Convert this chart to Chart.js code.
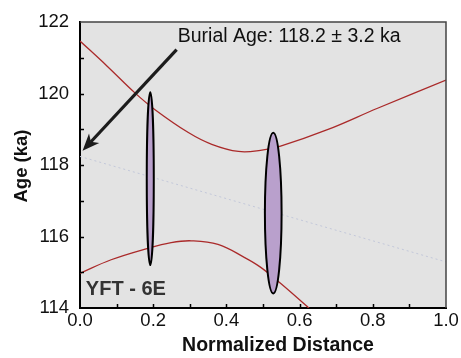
<!DOCTYPE html>
<html>
<head>
<meta charset="utf-8">
<script src="https://cdn.jsdelivr.net/npm/chart.js@4.4.1/dist/chart.umd.min.js"></script>
<style>
    html, body { margin: 0; padding: 0; background: #ffffff; }
    canvas { display: block; }
</style>
</head>
<body>
<canvas id="ageChart" width="461" height="358"></canvas>
<script>
// confidence band, upper and lower curves
var upperX = [0, 0.075, 0.15, 0.205, 0.296, 0.36, 0.433, 0.493, 0.548, 0.676, 0.813, 1.0];
var upperY = [121.47, 120.76, 120.02, 119.55, 118.91, 118.58, 118.38, 118.41, 118.53, 118.99, 119.59, 120.38];
var lowerX = [0, 0.085, 0.185, 0.249, 0.304, 0.377, 0.45, 0.492, 0.547, 0.624, 0.7];
var lowerY = [114.97, 115.35, 115.67, 115.83, 115.88, 115.78, 115.41, 115.15, 114.70, 114.01, 113.3];

// regression line
var fitX = [0, 1.0];
var fitY = [118.24, 115.29];

// sample ages drawn as ellipses
var sampleX = [0.192, 0.528];
var sampleY = [117.62, 116.655];
var sampleHalfX = [0.0096, 0.0228];
var sampleHalfY = [2.42, 2.25];

// ticks
var xTickStep = 0.2;
var yTickStep = 2;
var xMinorTicks = [0.1, 0.2, 0.3, 0.4, 0.5, 0.6, 0.7, 0.8, 0.9];
var yMinorTicks = [115, 116, 117, 118, 119, 120, 121];

// annotations (data units)
var burialText = "Burial Age: 118.2 \u00b1 3.2 ka";
var burialPos = [0.267, 121.45];
var arrowFrom = [0.264, 121.23];
var arrowTo = [0.007, 118.40];
var sampleName = "YFT - 6E";
var sampleNamePos = [0.016, 114.35];

var fontFamily = "'Liberation Sans', Arial, Helvetica, sans-serif";

function toPoints(xs, ys)
{
    var pts = [];
    for (var i = 0; i < xs.length; i++)
    {
        pts.push({x: xs[i], y: ys[i]});
    }
    return pts;
}

function drawArrow(ctx, x0, y0, x1, y1)
{
    var ang = Math.atan2(y1 - y0, x1 - x0);
    var c = Math.cos(ang), s = Math.sin(ang);
    var headLen = 17, headW = 7;
    var bx = x1 - headLen * c, by = y1 - headLen * s;
    ctx.save();
    ctx.strokeStyle = "#1c1c1c";
    ctx.fillStyle = "#1c1c1c";
    ctx.lineWidth = 3.2;
    ctx.beginPath();
    ctx.moveTo(x0, y0);
    ctx.lineTo(x1 - 12 * c, y1 - 12 * s);
    ctx.stroke();
    ctx.beginPath();
    ctx.moveTo(x1, y1);
    ctx.lineTo(bx + headW * s, by - headW * c);
    ctx.lineTo(x1 - 0.72 * headLen * c, y1 - 0.72 * headLen * s);
    ctx.lineTo(bx - headW * s, by + headW * c);
    ctx.closePath();
    ctx.fill();
    ctx.restore();
}

var decorPlugin = {
    id: "decor",
    beforeDraw: function (chart)
    {
        var ctx = chart.ctx, a = chart.chartArea;
        ctx.save();
        ctx.fillStyle = "#ffffff";
        ctx.fillRect(0, 0, chart.width, chart.height);
        ctx.fillStyle = "#e3e3e3";
        ctx.fillRect(a.left, a.top, a.right - a.left, a.bottom - a.top);
        ctx.restore();
    },
    afterDatasetsDraw: function (chart)
    {
        var ctx = chart.ctx, a = chart.chartArea;
        var xs = chart.scales.x, ys = chart.scales.y;

        // sample ellipses
        ctx.save();
        for (var i = 0; i < sampleX.length; i++)
        {
            var cx = xs.getPixelForValue(sampleX[i]);
            var cy = ys.getPixelForValue(sampleY[i]);
            var rx = Math.abs(xs.getPixelForValue(sampleX[i] + sampleHalfX[i]) - cx);
            var ry = Math.abs(ys.getPixelForValue(sampleY[i] + sampleHalfY[i]) - cy);
            ctx.beginPath();
            ctx.ellipse(cx, cy, rx, ry, 0, 0, Math.PI * 2);
            ctx.fillStyle = "#b9a0cc";
            ctx.fill();
            ctx.lineWidth = 2;
            ctx.strokeStyle = "#000000";
            ctx.stroke();
        }
        ctx.restore();

        // top and right frame
        ctx.save();
        ctx.strokeStyle = "#444444";
        ctx.lineWidth = 1.5;
        ctx.beginPath();
        ctx.moveTo(a.left, a.top);
        ctx.lineTo(a.right, a.top);
        ctx.lineTo(a.right, a.bottom);
        ctx.stroke();

        // inward tick marks
        ctx.strokeStyle = "#000000";
        ctx.lineWidth = 1.5;
        ctx.beginPath();
        xMinorTicks.forEach(function (v) {
            var px = Math.round(xs.getPixelForValue(v)) + 0.5;
            ctx.moveTo(px, a.bottom);
            ctx.lineTo(px, a.bottom - 4);
        });
        yMinorTicks.forEach(function (v) {
            var py = Math.round(ys.getPixelForValue(v)) + 0.5;
            ctx.moveTo(a.left, py);
            ctx.lineTo(a.left + 4, py);
        });
        ctx.stroke();
        ctx.restore();

        // arrow and labels
        drawArrow(ctx, xs.getPixelForValue(arrowFrom[0]), ys.getPixelForValue(arrowFrom[1]),
                       xs.getPixelForValue(arrowTo[0]), ys.getPixelForValue(arrowTo[1]));

        ctx.save();
        ctx.textBaseline = "alphabetic";
        ctx.textAlign = "left";
        ctx.fillStyle = "#111111";
        ctx.font = "19.5px " + fontFamily;
        ctx.fillText(burialText, xs.getPixelForValue(burialPos[0]), ys.getPixelForValue(burialPos[1]));
        ctx.fillStyle = "#333333";
        ctx.font = "bold 20px " + fontFamily;
        ctx.fillText(sampleName, xs.getPixelForValue(sampleNamePos[0]), ys.getPixelForValue(sampleNamePos[1]));
        ctx.restore();

        // axis titles
        ctx.save();
        ctx.fillStyle = "#111111";
        ctx.font = "bold 19.5px " + fontFamily;
        ctx.textAlign = "center";
        ctx.textBaseline = "alphabetic";
        ctx.fillText("Normalized Distance", 278, 351);
        ctx.translate(27, 166);
        ctx.rotate(-Math.PI / 2);
        ctx.font = "bold 18.5px " + fontFamily;
        ctx.fillText("Age (ka)", 0, 0);
        ctx.restore();
    }
};

var ctxEl = document.getElementById("ageChart");
var ageChart = new Chart(ctxEl, {
    type: "scatter",
    data: {
        datasets: [
            {
                label: "upper",
                data: toPoints(upperX, upperY),
                showLine: true,
                borderColor: "#aa2a2a",
                borderWidth: 1.3,
                pointRadius: 0,
                tension: 0.4
            },
            {
                label: "lower",
                data: toPoints(lowerX, lowerY),
                showLine: true,
                borderColor: "#aa2a2a",
                borderWidth: 1.3,
                pointRadius: 0,
                tension: 0.4
            },
            {
                label: "fit",
                data: toPoints(fitX, fitY),
                showLine: true,
                borderColor: "#c3c8da",
                borderWidth: 1,
                borderDash: [2, 3],
                pointRadius: 0
            }
        ]
    },
    options: {
        responsive: false,
        devicePixelRatio: 1,
        animation: false,
        layout: {
            padding: {top: 15, right: 15, left: 0, bottom: 0}
        },
        plugins: {
            legend: {display: false},
            tooltip: {enabled: false}
        },
        scales: {
            x: {
                type: "linear",
                min: 0,
                max: 1,
                afterFit: function (scale) { scale.height = 50; },
                grid: {display: false, drawTicks: false},
                border: {display: true, color: "#000000", width: 2},
                ticks: {
                    stepSize: xTickStep,
                    padding: 2,
                    color: "#111111",
                    font: {family: fontFamily, size: 18.5},
                    maxRotation: 0,
                    callback: function (v) { return Number(v).toFixed(1); }
                }
            },
            y: {
                type: "linear",
                min: 114,
                max: 122,
                afterFit: function (scale) { scale.width = 80; },
                grid: {display: false, drawTicks: false},
                border: {display: true, color: "#000000", width: 2},
                ticks: {
                    stepSize: yTickStep,
                    padding: 11,
                    color: "#111111",
                    font: {family: fontFamily, size: 18.5},
                    callback: function (v) { return v; }
                }
            }
        }
    },
    plugins: [decorPlugin]
});
</script>
</body>
</html>
